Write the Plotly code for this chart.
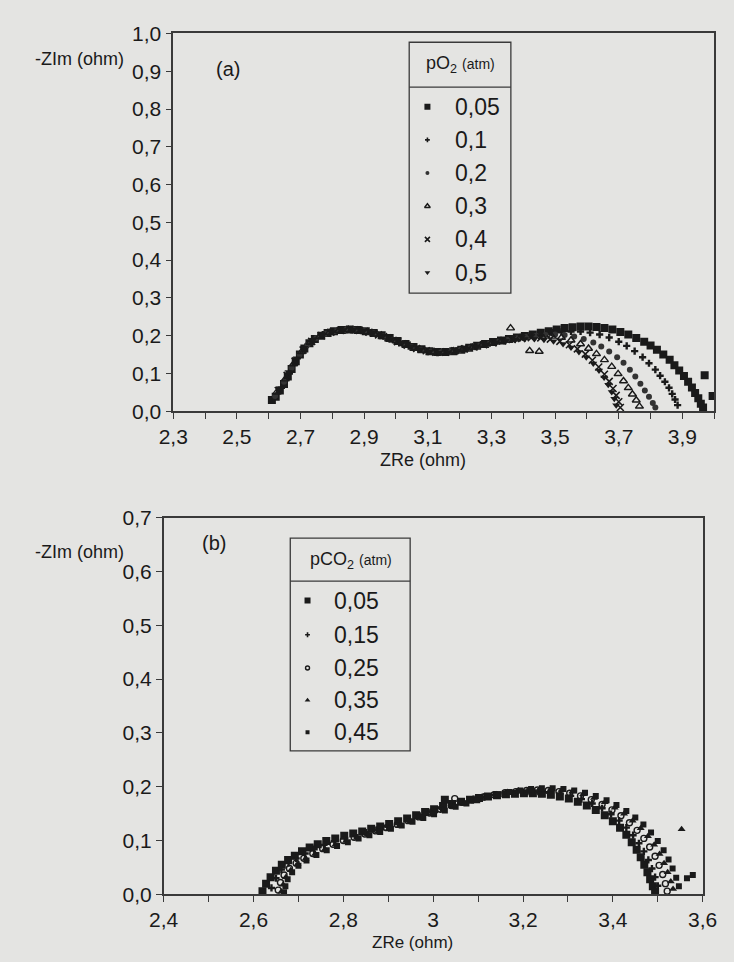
import plotly.graph_objects as go

W, H = 734, 962

# ---------------- (a) impedance spectra vs oxygen partial pressure ----------------
po2_labels = ["0,05", "0,1", "0,2", "0,3", "0,4", "0,5"]

po2_005 = [(2.610,0.030),(2.622,0.038),(2.635,0.055),(2.648,0.072),(2.660,0.092),(2.672,0.112),(2.685,0.132),
           (2.698,0.150),(2.712,0.166),(2.728,0.180),(2.745,0.191),(2.765,0.200),(2.785,0.207),(2.805,0.212),
           (2.830,0.215),(2.855,0.216),(2.880,0.215),(2.905,0.212),(2.930,0.207),(2.955,0.201),(2.980,0.194),
           (3.005,0.186),(3.030,0.178),(3.055,0.170),(3.080,0.164),(3.105,0.159),(3.130,0.157),(3.155,0.157),
           (3.180,0.159),(3.205,0.163),(3.230,0.168),(3.255,0.173),(3.280,0.178),(3.305,0.183),(3.330,0.187),
           (3.355,0.191),(3.380,0.195),(3.405,0.199),(3.430,0.203),(3.455,0.208),(3.480,0.212),(3.505,0.216),
           (3.530,0.220),(3.555,0.222),(3.580,0.224),(3.605,0.224),(3.630,0.223),(3.655,0.220),(3.680,0.216),
           (3.705,0.210),(3.730,0.203),(3.755,0.194),(3.780,0.184),(3.800,0.174),(3.820,0.163),(3.840,0.150),
           (3.860,0.136),(3.875,0.122),(3.890,0.108),(3.905,0.093),(3.918,0.078),(3.930,0.063),(3.940,0.048),
           (3.950,0.034),(3.958,0.020),(3.965,0.010),(3.970,0.095),(3.995,0.040)]

po2_01 = [(2.615,0.035),(2.640,0.062),(2.665,0.100),(2.690,0.140),(2.715,0.170),(2.740,0.190),(2.770,0.203),
          (2.800,0.211),(2.830,0.214),(2.860,0.215),(2.890,0.213),(2.920,0.208),(2.950,0.200),(2.980,0.191),
          (3.010,0.181),(3.040,0.172),(3.070,0.164),(3.100,0.158),(3.130,0.155),(3.160,0.156),(3.190,0.160),
          (3.220,0.165),(3.250,0.171),(3.280,0.177),(3.310,0.182),(3.340,0.187),(3.370,0.192),(3.400,0.196),
          (3.430,0.200),(3.460,0.204),(3.490,0.208),(3.520,0.210),(3.550,0.211),(3.580,0.211),(3.610,0.208),
          (3.640,0.203),(3.670,0.195),(3.700,0.184),(3.725,0.173),(3.750,0.159),(3.775,0.143),(3.795,0.127),
          (3.815,0.110),(3.830,0.094),(3.845,0.078),(3.858,0.062),(3.868,0.046),(3.877,0.031),(3.885,0.016)]

po2_02 = [(2.620,0.040),(2.648,0.078),(2.672,0.115),(2.697,0.150),(2.722,0.176),(2.750,0.194),(2.780,0.205),
          (2.810,0.212),(2.840,0.215),(2.870,0.215),(2.900,0.212),(2.930,0.206),(2.960,0.198),(2.990,0.189),
          (3.020,0.179),(3.050,0.170),(3.080,0.163),(3.110,0.158),(3.140,0.156),(3.170,0.158),(3.200,0.162),
          (3.230,0.167),(3.260,0.173),(3.290,0.178),(3.320,0.184),(3.350,0.189),(3.380,0.193),(3.410,0.197),
          (3.440,0.200),(3.470,0.202),(3.500,0.203),(3.530,0.202),(3.560,0.198),(3.590,0.191),(3.620,0.182),
          (3.645,0.171),(3.670,0.158),(3.695,0.143),(3.715,0.128),(3.735,0.110),(3.752,0.092),(3.768,0.073),
          (3.782,0.055),(3.795,0.038),(3.807,0.022),(3.815,0.010)]

po2_03 = [(2.625,0.050),(2.652,0.085),(2.678,0.125),(2.703,0.157),(2.730,0.182),(2.760,0.198),(2.790,0.208),
          (2.820,0.213),(2.850,0.216),(2.880,0.214),(2.910,0.210),(2.940,0.204),(2.970,0.196),(3.000,0.186),
          (3.030,0.177),(3.060,0.168),(3.090,0.161),(3.120,0.157),(3.150,0.156),(3.180,0.159),(3.210,0.164),
          (3.240,0.169),(3.270,0.175),(3.300,0.180),(3.330,0.186),(3.360,0.220),(3.390,0.194),(3.420,0.160),
          (3.450,0.158),(3.460,0.197),(3.490,0.198),(3.520,0.195),(3.550,0.188),(3.580,0.178),(3.605,0.166),
          (3.630,0.152),(3.655,0.136),(3.678,0.118),(3.698,0.099),(3.715,0.080),(3.730,0.062),(3.743,0.045),
          (3.755,0.029),(3.765,0.013)]

po2_04 = [(2.630,0.055),(2.658,0.095),(2.683,0.132),(2.708,0.162),(2.735,0.185),(2.765,0.200),(2.795,0.209),
          (2.825,0.214),(2.855,0.216),(2.885,0.214),(2.915,0.209),(2.945,0.202),(2.975,0.194),(3.005,0.184),
          (3.035,0.175),(3.065,0.166),(3.095,0.160),(3.125,0.156),(3.155,0.156),(3.185,0.160),(3.215,0.165),
          (3.245,0.170),(3.275,0.176),(3.305,0.181),(3.335,0.186),(3.365,0.190),(3.395,0.193),(3.425,0.195),
          (3.455,0.194),(3.485,0.191),(3.515,0.185),(3.545,0.176),(3.570,0.165),(3.595,0.151),(3.617,0.135),
          (3.637,0.117),(3.655,0.098),(3.670,0.079),(3.682,0.060),(3.692,0.042),(3.700,0.025),(3.705,0.010)]

po2_05 = [(2.635,0.060),(2.662,0.104),(2.688,0.140),(2.712,0.168),(2.740,0.189),(2.770,0.202),(2.800,0.210),
          (2.835,0.215),(2.865,0.216),(2.895,0.213),(2.925,0.208),(2.955,0.200),(2.985,0.191),(3.015,0.181),
          (3.045,0.172),(3.075,0.164),(3.105,0.158),(3.135,0.155),(3.165,0.156),(3.195,0.160),(3.225,0.166),
          (3.255,0.171),(3.285,0.177),(3.315,0.182),(3.345,0.186),(3.375,0.189),(3.405,0.191),(3.435,0.191),
          (3.465,0.189),(3.495,0.185),(3.525,0.178),(3.550,0.169),(3.575,0.157),(3.598,0.143),(3.620,0.126),
          (3.638,0.108),(3.654,0.089),(3.667,0.070),(3.678,0.051),(3.686,0.033),(3.692,0.016)]

po2_series = [po2_005, po2_01, po2_02, po2_03, po2_04, po2_05]

# ---------------- (b) impedance spectra vs CO2 partial pressure ----------------
pco2_labels = ["0,05", "0,15", "0,25", "0,35", "0,45"]

pco2_005 = [(2.620,0.006),(2.628,0.020),(2.638,0.032),(2.650,0.044),(2.663,0.055),(2.677,0.064),(2.692,0.072),
            (2.708,0.080),(2.725,0.087),(2.743,0.093),(2.762,0.099),(2.782,0.104),(2.802,0.109),(2.822,0.113),
            (2.842,0.117),(2.862,0.122),(2.882,0.126),(2.902,0.131),(2.922,0.136),(2.942,0.141),(2.962,0.147),
            (2.982,0.153),(3.002,0.158),(3.022,0.164),(3.026,0.176),(3.042,0.168),(3.062,0.172),(3.082,0.176),
            (3.102,0.179),(3.122,0.182),(3.142,0.184),(3.162,0.186),(3.182,0.187),(3.202,0.188),(3.222,0.188),
            (3.242,0.187),(3.262,0.185),(3.282,0.182),(3.302,0.178),(3.322,0.172),(3.342,0.165),(3.362,0.157),
            (3.382,0.147),(3.400,0.136),(3.416,0.124),(3.430,0.111),(3.442,0.097),(3.453,0.083),(3.462,0.069),
            (3.470,0.055),(3.477,0.041),(3.483,0.028),(3.489,0.015),(3.494,0.005)]

pco2_015 = [(2.640,0.012),(2.650,0.030),(2.662,0.046),(2.678,0.058),(2.695,0.067),(2.715,0.076),(2.735,0.084),
            (2.757,0.092),(2.780,0.099),(2.803,0.105),(2.826,0.110),(2.850,0.115),(2.874,0.120),(2.898,0.126),
            (2.922,0.132),(2.946,0.139),(2.970,0.146),(2.994,0.153),(3.018,0.160),(3.042,0.166),(3.066,0.172),
            (3.090,0.177),(3.114,0.181),(3.138,0.185),(3.162,0.188),(3.186,0.190),(3.210,0.191),(3.234,0.191),
            (3.258,0.190),(3.282,0.187),(3.306,0.183),(3.330,0.177),(3.354,0.169),(3.376,0.160),(3.396,0.149),
            (3.414,0.137),(3.430,0.124),(3.445,0.110),(3.458,0.095),(3.469,0.080),(3.479,0.064),(3.487,0.048),
            (3.494,0.032),(3.500,0.016)]

pco2_025 = [(2.655,0.008),(2.660,0.022),(2.668,0.036),(2.680,0.048),(2.695,0.058),(2.712,0.067),(2.732,0.076),
            (2.754,0.085),(2.777,0.093),(2.800,0.100),(2.824,0.106),(2.848,0.112),(2.872,0.118),(2.896,0.124),
            (2.920,0.130),(2.944,0.137),(2.968,0.144),(2.992,0.151),(3.016,0.158),(3.040,0.165),(3.048,0.178),
            (3.064,0.171),(3.088,0.176),(3.112,0.181),(3.136,0.185),(3.160,0.189),(3.184,0.191),(3.208,0.193),
            (3.232,0.194),(3.256,0.193),(3.280,0.191),(3.304,0.188),(3.328,0.183),(3.352,0.176),(3.376,0.167),
            (3.398,0.157),(3.418,0.146),(3.437,0.133),(3.454,0.119),(3.469,0.104),(3.482,0.088),(3.494,0.071),
            (3.503,0.054),(3.511,0.037),(3.517,0.020),(3.521,0.006)]

pco2_035 = [(2.662,0.005),(2.666,0.018),(2.672,0.032),(2.683,0.045),(2.698,0.056),(2.716,0.066),(2.737,0.075),
            (2.759,0.084),(2.782,0.092),(2.806,0.099),(2.830,0.105),(2.854,0.111),(2.878,0.117),(2.902,0.123),
            (2.926,0.129),(2.950,0.136),(2.974,0.143),(2.998,0.150),(3.022,0.157),(3.046,0.164),(3.070,0.170),
            (3.094,0.176),(3.118,0.181),(3.142,0.186),(3.166,0.190),(3.190,0.193),(3.214,0.195),(3.238,0.196),
            (3.262,0.196),(3.286,0.194),(3.310,0.191),(3.334,0.186),(3.358,0.179),(3.382,0.171),(3.404,0.161),
            (3.425,0.150),(3.444,0.137),(3.462,0.123),(3.478,0.108),(3.492,0.092),(3.504,0.075),(3.514,0.058),
            (3.522,0.041),(3.529,0.024),(3.534,0.010),(3.553,0.121)]

pco2_045 = [(2.668,0.004),(2.671,0.015),(2.676,0.028),(2.686,0.041),(2.700,0.053),(2.718,0.063),(2.740,0.073),
            (2.763,0.082),(2.786,0.090),(2.810,0.097),(2.834,0.104),(2.858,0.110),(2.882,0.116),(2.906,0.122),
            (2.930,0.128),(2.954,0.135),(2.978,0.142),(3.002,0.149),(3.026,0.156),(3.050,0.163),(3.074,0.169),
            (3.098,0.175),(3.122,0.181),(3.146,0.186),(3.170,0.190),(3.194,0.193),(3.218,0.196),(3.242,0.197),
            (3.266,0.197),(3.290,0.196),(3.314,0.193),(3.338,0.189),(3.362,0.183),(3.386,0.175),(3.408,0.166),
            (3.430,0.155),(3.450,0.143),(3.468,0.130),(3.485,0.115),(3.500,0.099),(3.513,0.082),(3.524,0.065),
            (3.533,0.048),(3.541,0.031),(3.547,0.015),(3.565,0.030),(3.578,0.036)]

pco2_series = [pco2_005, pco2_015, pco2_025, pco2_035, pco2_045]

# axis ticks
xa_ticks = [2.3, 2.5, 2.7, 2.9, 3.1, 3.3, 3.5, 3.7, 3.9]
xa_text = ["2,3", "2,5", "2,7", "2,9", "3,1", "3,3", "3,5", "3,7", "3,9"]
ya_ticks = [0.0, 0.1, 0.2, 0.3, 0.4, 0.5, 0.6, 0.7, 0.8, 0.9, 1.0]
ya_text = ["0,0", "0,1", "0,2", "0,3", "0,4", "0,5", "0,6", "0,7", "0,8", "0,9", "1,0"]
xb_ticks = [2.4, 2.6, 2.8, 3.0, 3.2, 3.4, 3.6]
xb_text = ["2,4", "2,6", "2,8", "3", "3,2", "3,4", "3,6"]
yb_ticks = [0.0, 0.1, 0.2, 0.3, 0.4, 0.5, 0.6, 0.7]
yb_text = ["0,0", "0,1", "0,2", "0,3", "0,4", "0,5", "0,6", "0,7"]

# ---------------- styling ----------------
BG = "#e4e4e2"
INK = "#1a1a1a"
LINE = "#3a3a3a"
FONT = "Liberation Sans"

marker_a = [
    dict(symbol="square", size=8, color=INK),
    dict(symbol="cross", size=6, color=INK),
    dict(symbol="circle", size=6, color="#333"),
    dict(symbol="triangle-up-open", size=7, color=INK, line=dict(width=1.4, color=INK)),
    dict(symbol="x-thin", size=7, color=INK, line=dict(width=1.6, color=INK)),
    dict(symbol="triangle-down", size=7, color=INK),
]
marker_b = [
    dict(symbol="square", size=8, color=INK),
    dict(symbol="cross", size=6, color=INK),
    dict(symbol="circle-open", size=6, color=INK, line=dict(width=1.4, color=INK)),
    dict(symbol="triangle-up", size=7, color=INK),
    dict(symbol="square", size=6, color=INK),
]
legend_key_a = [dict(m, size=max(4, m["size"] - 2)) for m in marker_a]
legend_key_b = [dict(m, size=max(4, m["size"] - 2)) for m in marker_b]


def px_x(p):
    return p / W


def px_y(p):
    return 1 - p / H


fig = go.Figure()

for pts, lab, mk in zip(po2_series, po2_labels, marker_a):
    fig.add_trace(go.Scatter(x=[p[0] for p in pts], y=[p[1] for p in pts], mode="markers",
                             marker=mk, name=lab, xaxis="x", yaxis="y", showlegend=False))

for pts, lab, mk in zip(pco2_series, pco2_labels, marker_b):
    fig.add_trace(go.Scatter(x=[p[0] for p in pts], y=[p[1] for p in pts], mode="markers",
                             marker=mk, name=lab, xaxis="x2", yaxis="y2", showlegend=False))

# legend tables (boxes in pixel space)
leg_a = dict(x0=411, x1=517, y0=31, y1=288, sep=77, head=(464, 54), key_x=430, text_x=457,
             rows=[97, 131, 165, 199, 233, 267])
leg_b = dict(x0=287, x1=412, y0=539, y1=757, sep=583, head=(350, 562), key_x=305, text_x=331,
             rows=[603, 638, 672, 705, 738])

shapes = []
annotations = []


def build_legend(leg, labels, markers, header, xa, ya):
    shapes.append(dict(type="rect", xref="paper", yref="paper",
                       x0=px_x(leg["x0"]), x1=px_x(leg["x1"]), y0=px_y(leg["y1"]), y1=px_y(leg["y0"]),
                       line=dict(color=LINE, width=1.3)))
    shapes.append(dict(type="line", xref="paper", yref="paper",
                       x0=px_x(leg["x0"]), x1=px_x(leg["x1"]), y0=px_y(leg["sep"]), y1=px_y(leg["sep"]),
                       line=dict(color=LINE, width=1.3)))
    annotations.append(dict(x=px_x(leg["head"][0]), y=px_y(leg["head"][1]), xref="paper", yref="paper",
                            text=header, showarrow=False, xanchor="center", yanchor="middle",
                            font=dict(family=FONT, size=18, color=INK)))
    for row, lab, mk in zip(leg["rows"], labels, markers):
        fig.add_trace(go.Scatter(x=[leg["key_x"]], y=[row], mode="markers", marker=mk,
                                 xaxis=xa, yaxis=ya, showlegend=False, hoverinfo="skip"))
        annotations.append(dict(x=px_x(leg["text_x"]), y=px_y(row), xref="paper", yref="paper",
                                text=lab, showarrow=False, xanchor="left", yanchor="middle",
                                font=dict(family=FONT, size=23, color=INK)))


build_legend(leg_a, po2_labels, legend_key_a, "pO<sub>2</sub> <span style='font-size:14px'>(atm)</span>", "x3", "y3")
build_legend(leg_b, pco2_labels, legend_key_b, "pCO<sub>2</sub> <span style='font-size:14px'>(atm)</span>", "x4", "y4")

# panel labels and axis titles
texts = [
    ("(a)", 222, 58, "center", 20),
    ("(b)", 208, 544, "center", 20),
    ("-ZIm (ohm)", 116, 48, "right", 18),
    ("-ZIm (ohm)", 116, 553, "right", 18),
    ("ZRe (ohm)", 425, 459, "center", 18),
    ("ZRe (ohm)", 414, 953, "center", 17),
]
for t, x, y, anc, sz in texts:
    annotations.append(dict(x=px_x(x), y=px_y(y), xref="paper", yref="paper", text=t, showarrow=False,
                            xanchor=anc, yanchor="middle", font=dict(family=FONT, size=sz, color=INK)))

axis_common = dict(showline=True, mirror=True, linecolor=LINE, linewidth=1.5, ticks="outside",
                   ticklen=6, tickwidth=1.3, tickcolor=LINE, showgrid=False, zeroline=False,
                   tickfont=dict(family=FONT, size=21, color=INK))

# plot areas in pixels: (a) x 165-729, y 22-409 ; (b) x 155-717, y 518-904
fig.update_layout(
    width=W, height=H, margin=dict(l=0, r=0, t=0, b=0),
    paper_bgcolor=BG, plot_bgcolor=BG,
    font=dict(family=FONT, color=INK),
    xaxis=dict(domain=[px_x(165), px_x(729)], range=[2.3, 4.0], anchor="y",
               tickmode="array", tickvals=xa_ticks, ticktext=xa_text,
               minor=dict(dtick=0.1, tick0=2.3, ticks="outside", ticklen=6, tickcolor=LINE, tickwidth=1.3),
               **axis_common),
    yaxis=dict(domain=[px_y(409), px_y(22)], range=[0, 1.0], anchor="x",
               tickmode="array", tickvals=ya_ticks, ticktext=ya_text, **axis_common),
    xaxis2=dict(domain=[px_x(155), px_x(717)], range=[2.4, 3.6], anchor="y2",
                tickmode="array", tickvals=xb_ticks, ticktext=xb_text,
                minor=dict(dtick=0.1, tick0=2.4, ticks="outside", ticklen=6, tickcolor=LINE, tickwidth=1.3),
                **axis_common),
    yaxis2=dict(domain=[px_y(904), px_y(518)], range=[0, 0.7], anchor="x2",
                tickmode="array", tickvals=yb_ticks, ticktext=yb_text, **axis_common),
    # hidden pixel-space axes for the legend keys
    xaxis3=dict(domain=[px_x(leg_a["x0"]), px_x(leg_a["x1"])], range=[leg_a["x0"], leg_a["x1"]],
                visible=False, anchor="y3", fixedrange=True),
    yaxis3=dict(domain=[px_y(leg_a["y1"]), px_y(leg_a["y0"])], range=[leg_a["y1"], leg_a["y0"]],
                visible=False, anchor="x3", fixedrange=True),
    xaxis4=dict(domain=[px_x(leg_b["x0"]), px_x(leg_b["x1"])], range=[leg_b["x0"], leg_b["x1"]],
                visible=False, anchor="y4", fixedrange=True),
    yaxis4=dict(domain=[px_y(leg_b["y1"]), px_y(leg_b["y0"])], range=[leg_b["y1"], leg_b["y0"]],
                visible=False, anchor="x4", fixedrange=True),
    shapes=shapes,
    annotations=annotations,
    showlegend=False,
)

fig.write_html("out.html")
